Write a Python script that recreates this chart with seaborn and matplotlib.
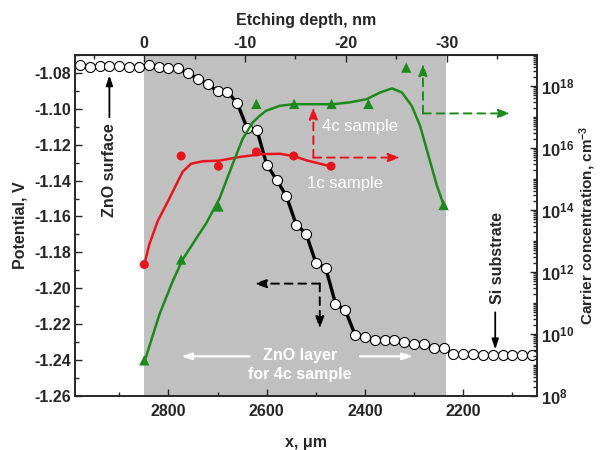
import numpy as np
import matplotlib
matplotlib.use("Agg")
import matplotlib.pyplot as plt
import seaborn as sns
import pandas as pd
from matplotlib.ticker import MultipleLocator, FixedLocator, FuncFormatter, LogLocator, NullFormatter

# ---------------- data ----------------
pot_x = [2980, 2960, 2940, 2920, 2900, 2880, 2860, 2840, 2820, 2800, 2780, 2760,
         2740, 2720, 2700, 2680, 2660, 2640, 2620, 2600, 2580, 2560, 2540, 2520,
         2500, 2480, 2460, 2440, 2420, 2400, 2380, 2360, 2340, 2320, 2300, 2280,
         2260, 2240, 2220, 2200, 2180, 2160, 2140, 2120, 2100, 2080, 2060]
pot_v = [-1.0754, -1.0765, -1.0760, -1.0760, -1.0760, -1.0765, -1.0765, -1.0754,
         -1.0767, -1.0775, -1.0775, -1.0802, -1.0832, -1.0864, -1.0902, -1.0905,
         -1.0968, -1.1107, -1.1117, -1.1311, -1.1395, -1.1486, -1.1645, -1.1695,
         -1.1857, -1.1886, -1.2085, -1.2123, -1.2260, -1.2272, -1.2287, -1.2287,
         -1.2289, -1.2301, -1.2313, -1.2313, -1.2333, -1.2333, -1.2364, -1.2364,
         -1.2364, -1.2374, -1.2374, -1.2374, -1.2374, -1.2374, -1.2374]

# 1c sample (red): measured points and fitted curve (log10 of concentration)
red_x = [2849, 2774, 2698, 2621, 2545, 2469]
red_log = [12.24, 15.74, 15.41, 15.87, 15.74, 15.41]
red_fit_x = [2849, 2839, 2822, 2798, 2771, 2754, 2730, 2696, 2655, 2608, 2573, 2546, 2519, 2471]
red_fit_log = [12.24, 12.88, 13.63, 14.37, 15.23, 15.49, 15.57, 15.59, 15.71, 15.80, 15.81, 15.74, 15.60, 15.41]

# 4c sample (green)
grn_x = [2849, 2774, 2698, 2621, 2544, 2468, 2393, 2316, 2240]
grn_log = [9.15, 12.40, 14.11, 17.42, 17.42, 17.42, 17.42, 18.59, 14.16]
grn_fit_x = [2849, 2818, 2791, 2771, 2743, 2723, 2696, 2669, 2649, 2628, 2614, 2601, 2573,
             2546, 2465, 2431, 2397, 2369, 2345, 2325, 2305, 2288, 2271, 2254, 2240]
grn_fit_log = [9.09, 10.64, 11.71, 12.40, 13.09, 13.57, 14.37, 15.49, 16.29, 16.83, 17.04,
               17.20, 17.36, 17.41, 17.41, 17.47, 17.57, 17.79, 17.92, 17.79, 17.36, 16.72,
               15.76, 14.80, 14.16]

x_ticks = [2800, 2600, 2400, 2200]
y_ticks = [-1.26, -1.24, -1.22, -1.20, -1.18, -1.16, -1.14, -1.12, -1.10, -1.08]
depth_ticks = [0, -10, -20, -30]
conc_ticks = [1e8, 1e10, 1e12, 1e14, 1e16, 1e18]

# ---------------- style ----------------
sns.set_style("ticks")
plt.rcParams['font.family'] = ['Liberation Sans', 'DejaVu Sans']
plt.rcParams['font.weight'] = 'bold'
plt.rcParams['axes.unicode_minus'] = False
plt.rcParams['mathtext.fontset'] = 'custom'
plt.rcParams['mathtext.rm'] = 'Liberation Sans:bold'
plt.rcParams['mathtext.bf'] = 'Liberation Sans:bold'
plt.rcParams['mathtext.it'] = 'Liberation Sans:bold'
plt.rcParams['mathtext.default'] = 'rm'

RED = '#e8141c'
GREEN = '#1b8a1b'
GRAY = '#c0c0c0'
FS = 11.5

fig = plt.figure(figsize=(6, 4.5), dpi=100)
ax = fig.add_axes([0.125, 0.12, 0.77, 0.758])
ax.set_xlim(2990, 2050)
ax.set_ylim(-1.26, -1.07)

ax.axvspan(2850, 2235, color=GRAY, zorder=0, lw=0)

df_pot = pd.DataFrame({'x': pot_x, 'v': pot_v})
sns.lineplot(data=df_pot.iloc[10:39], x='x', y='v', ax=ax, color='black', lw=2.4,
             sort=False, estimator=None, zorder=2)
sns.scatterplot(data=df_pot, x='x', y='v', ax=ax, marker='o', s=52, color='white',
                edgecolor='black', linewidth=0.8, zorder=3)

ax.set_xticks(x_ticks)
ax.xaxis.set_minor_locator(MultipleLocator(100))
ax.set_yticks(y_ticks)
ax.yaxis.set_minor_locator(MultipleLocator(0.01))
ax.yaxis.set_major_formatter(FuncFormatter(lambda v, p: f"{v:.2f}"))
ax.tick_params(which='both', direction='in', top=False, right=False,
               labelsize=FS, pad=3)
ax.tick_params(axis='x', which='both', pad=6)
ax.tick_params(which='major', length=5, width=1)
ax.tick_params(which='minor', length=3, width=1)
ax.set_xlabel("x, \u03bcm", fontsize=FS, fontweight='bold', labelpad=11)
ax.set_ylabel("Potential, V", fontsize=FS, fontweight='bold', labelpad=5)
for s in ax.spines.values():
    s.set_linewidth(1.2)

# top depth axis
fwd = lambda x: (np.asarray(x) - 2849.0) / 20.5
inv = lambda d: np.asarray(d) * 20.5 + 2849.0
sec = ax.secondary_xaxis('top', functions=(fwd, inv))
sec.set_xticks(depth_ticks)
sec.xaxis.set_minor_locator(MultipleLocator(5))
sec.tick_params(which='both', direction='in', labelsize=FS, pad=3)
sec.tick_params(which='major', length=5, width=1)
sec.tick_params(which='minor', length=3, width=1)
sec.set_xlabel("Etching depth, nm", fontsize=FS, fontweight='bold', labelpad=8)

# right concentration axis
ax2 = ax.twinx()
ax2.set_yscale('log')
ax2.set_ylim(1e8, 1e19)
df_red = pd.DataFrame({'x': red_x, 'c': 10.0 ** np.array(red_log)})
df_redf = pd.DataFrame({'x': red_fit_x, 'c': 10.0 ** np.array(red_fit_log)})
df_grn = pd.DataFrame({'x': grn_x, 'c': 10.0 ** np.array(grn_log)})
df_grnf = pd.DataFrame({'x': grn_fit_x, 'c': 10.0 ** np.array(grn_fit_log)})
sns.lineplot(data=df_redf, x='x', y='c', ax=ax2, color=RED, lw=1.8, sort=False, estimator=None)
sns.scatterplot(data=df_red, x='x', y='c', ax=ax2, marker='o', s=42, color=RED, edgecolor='none')
sns.lineplot(data=df_grnf, x='x', y='c', ax=ax2, color=GREEN, lw=1.8, sort=False, estimator=None)
sns.scatterplot(data=df_grn, x='x', y='c', ax=ax2, marker='^', s=55, color=GREEN, edgecolor='none')
ax2.set_xlim(2990, 2050)
ax2.yaxis.set_major_locator(FixedLocator(conc_ticks))
ax2.yaxis.set_major_formatter(FuncFormatter(lambda v, p: r"$10^{%d}$" % round(np.log10(v))))
ax2.yaxis.set_minor_locator(LogLocator(base=10, subs=np.arange(1, 10), numticks=30))
ax2.yaxis.set_minor_formatter(NullFormatter())
ax2.tick_params(which='both', direction='in', labelsize=FS + 0.5, pad=3)
ax2.tick_params(which='major', length=5, width=1)
ax2.tick_params(which='minor', length=3, width=1)
ax2.set_ylabel("Carrier concentration, cm$^{-3}$", fontsize=FS - 0.5, fontweight='bold', labelpad=2)
ax2.set_xlabel("")
for s in ax2.spines.values():
    s.set_linewidth(1.2)

# ---------------- annotations (data coords of main axis) ----------------
def darrow(x0, y0, x1, y1, color):
    ax.annotate('', xy=(x1, y1), xytext=(x0, y0), zorder=5,
                arrowprops=dict(arrowstyle='-|>,head_length=0.7,head_width=0.25',
                                color=color, lw=1.4, linestyle=(0, (4, 3)),
                                shrinkA=0, shrinkB=0))

# red dashed (1c -> right axis)
darrow(2505, -1.1272, 2505, -1.0990, RED)
darrow(2505, -1.1272, 2328, -1.1272, RED)
# green dashed (4c -> right axis)
darrow(2282, -1.1026, 2282, -1.0748, GREEN)
darrow(2282, -1.1026, 2104, -1.1026, GREEN)
# black dashed (potential -> left axis)
darrow(2492, -1.1974, 2625, -1.1974, 'black')
darrow(2492, -1.1974, 2492, -1.2225, 'black')

# white arrows for ZnO layer
ax.annotate('', xy=(2774, -1.2379), xytext=(2635, -1.2379), zorder=5,
            arrowprops=dict(arrowstyle='-|>,head_length=0.6,head_width=0.2', color='white', lw=1.6,
                            shrinkA=0, shrinkB=0))
ax.annotate('', xy=(2302, -1.2379), xytext=(2410, -1.2379), zorder=5,
            arrowprops=dict(arrowstyle='-|>,head_length=0.6,head_width=0.2', color='white', lw=1.6,
                            shrinkA=0, shrinkB=0))
ax.text(2533, -1.2376, "ZnO layer", color='white', fontsize=FS, fontweight='bold',
        ha='center', va='center', zorder=6)
ax.text(2533, -1.2480, "for 4c sample", color='white', fontsize=FS, fontweight='bold',
        ha='center', va='center', zorder=6)

ax.text(2410, -1.1097, "4c sample", color='white', fontsize=FS + 0.5, fontweight='normal',
        ha='center', va='center', zorder=6)
ax.text(2441, -1.1415, "1c sample", color='white', fontsize=FS + 0.5, fontweight='normal',
        ha='center', va='center', zorder=6)

# ZnO surface
ax.text(2920, -1.1342, "ZnO surface", rotation=90, fontsize=FS, fontweight='bold',
        ha='center', va='center', zorder=6)
ax.annotate('', xy=(2920, -1.0813), xytext=(2920, -1.1047), zorder=5,
            arrowprops=dict(arrowstyle='-|>,head_length=0.6,head_width=0.2', color='black', lw=1.3,
                            shrinkA=0, shrinkB=0))
# Si substrate
ax.text(2131, -1.1833, "Si substrate", rotation=90, fontsize=FS, fontweight='bold',
        ha='center', va='center', zorder=6)
ax.annotate('', xy=(2135, -1.2341), xytext=(2135, -1.2134), zorder=5,
            arrowprops=dict(arrowstyle='-|>,head_length=0.6,head_width=0.2', color='black', lw=1.3,
                            shrinkA=0, shrinkB=0))

fig.savefig("out.png", dpi=100)
